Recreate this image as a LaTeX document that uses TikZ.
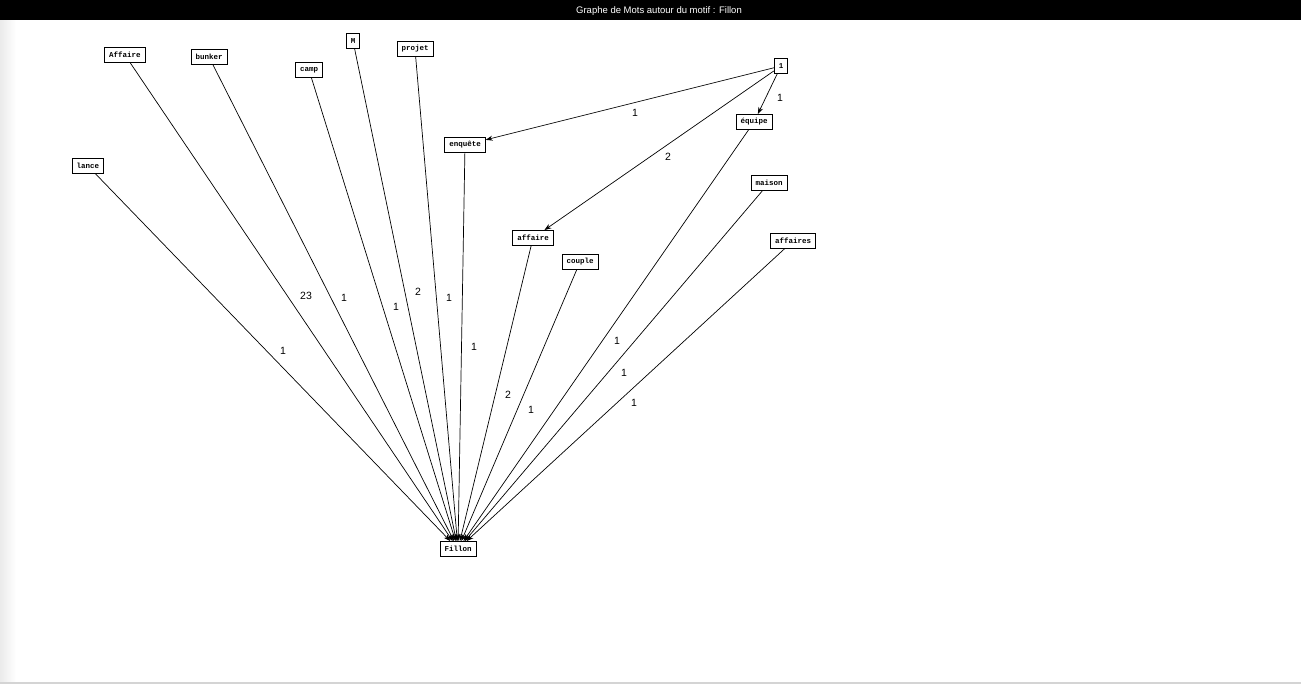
\documentclass[tikz,border=0pt]{standalone}
\usepackage{fontspec}
\setmainfont{Liberation Sans}
\newfontfamily\boxfont{Liberation Mono}
\usetikzlibrary{arrows.meta}
\begin{document}
\begin{tikzpicture}[x=1pt,y=-1pt,
  word/.style={draw,fill=white,line width=0.8pt,inner xsep=4.5pt,inner ysep=0pt,
    minimum height=15pt,font=\boxfont\bfseries\fontsize{7.5}{8}\selectfont},
  link/.style={line width=0.7pt,-{Stealth[length=7pt,width=5pt]}},
  lbl/.style={font=\fontsize{10.5}{12}\selectfont,inner sep=1pt}]
\useasboundingbox (0,0) rectangle (1301,684);
% frame: title bar, left shadow, bottom rule
\fill[white] (0,0) rectangle (1301,684);
\shade[left color=black!8,right color=white] (0,20) rectangle (16,682);
\fill[black] (0,0) rectangle (1301,20);
\node[text=white,font=\fontsize{9.5}{11}\selectfont] (title) at (659,11) {Graphe de Mots autour du motif : Fillon};
\fill[black!17] (0,681.5) rectangle (1301,684);
% words
\node[word] (Affaire) at (125,55) {Affaire};
\node[word] (bunker) at (209,57) {bunker};
\node[word] (camp) at (309,70) {camp};
\node[word] (M) at (353,41) {M};
\node[word] (projet) at (415,49) {projet};
\node[word] (lance) at (88,166) {lance};
\node[word] (enquete) at (465,145) {enquête};
\node[word] (one) at (781,66) {1};
\node[word] (equipe) at (754,122) {équipe};
\node[word] (maison) at (769,183) {maison};
\node[word] (affaire) at (533,238) {affaire};
\node[word] (couple) at (580,262) {couple};
\node[word] (affaires) at (793,241) {affaires};
\node[word] (Fillon) at (458,549) {Fillon};
% links towards Fillon
\foreach \s in {lance,Affaire,bunker,camp,M,projet,enquete,affaire,couple,equipe,maison,affaires}
  \draw[link] (\s) -- (Fillon);
% links from 1
\draw[link] (one) -- (enquete);
\draw[link] (one) -- (affaire);
\draw[link] (one) -- (equipe);
% weights
\node[lbl] (w-lance) at (283,351) {1};
\node[lbl] (w-Affaire) at (306,296) {23};
\node[lbl] (w-bunker) at (344,298) {1};
\node[lbl] (w-camp) at (396,307) {1};
\node[lbl] (w-M) at (418,292) {2};
\node[lbl] (w-projet) at (449,298) {1};
\node[lbl] (w-enquete) at (474,347) {1};
\node[lbl] (w-affaire) at (508,395) {2};
\node[lbl] (w-couple) at (531,410) {1};
\node[lbl] (w-equipe) at (617,341) {1};
\node[lbl] (w-maison) at (624,373) {1};
\node[lbl] (w-affaires) at (634,403) {1};
\node[lbl] (w-one-enquete) at (635,113) {1};
\node[lbl] (w-one-affaire) at (668,157) {2};
\node[lbl] (w-one-equipe) at (780,98) {1};
\end{tikzpicture}
\end{document}
